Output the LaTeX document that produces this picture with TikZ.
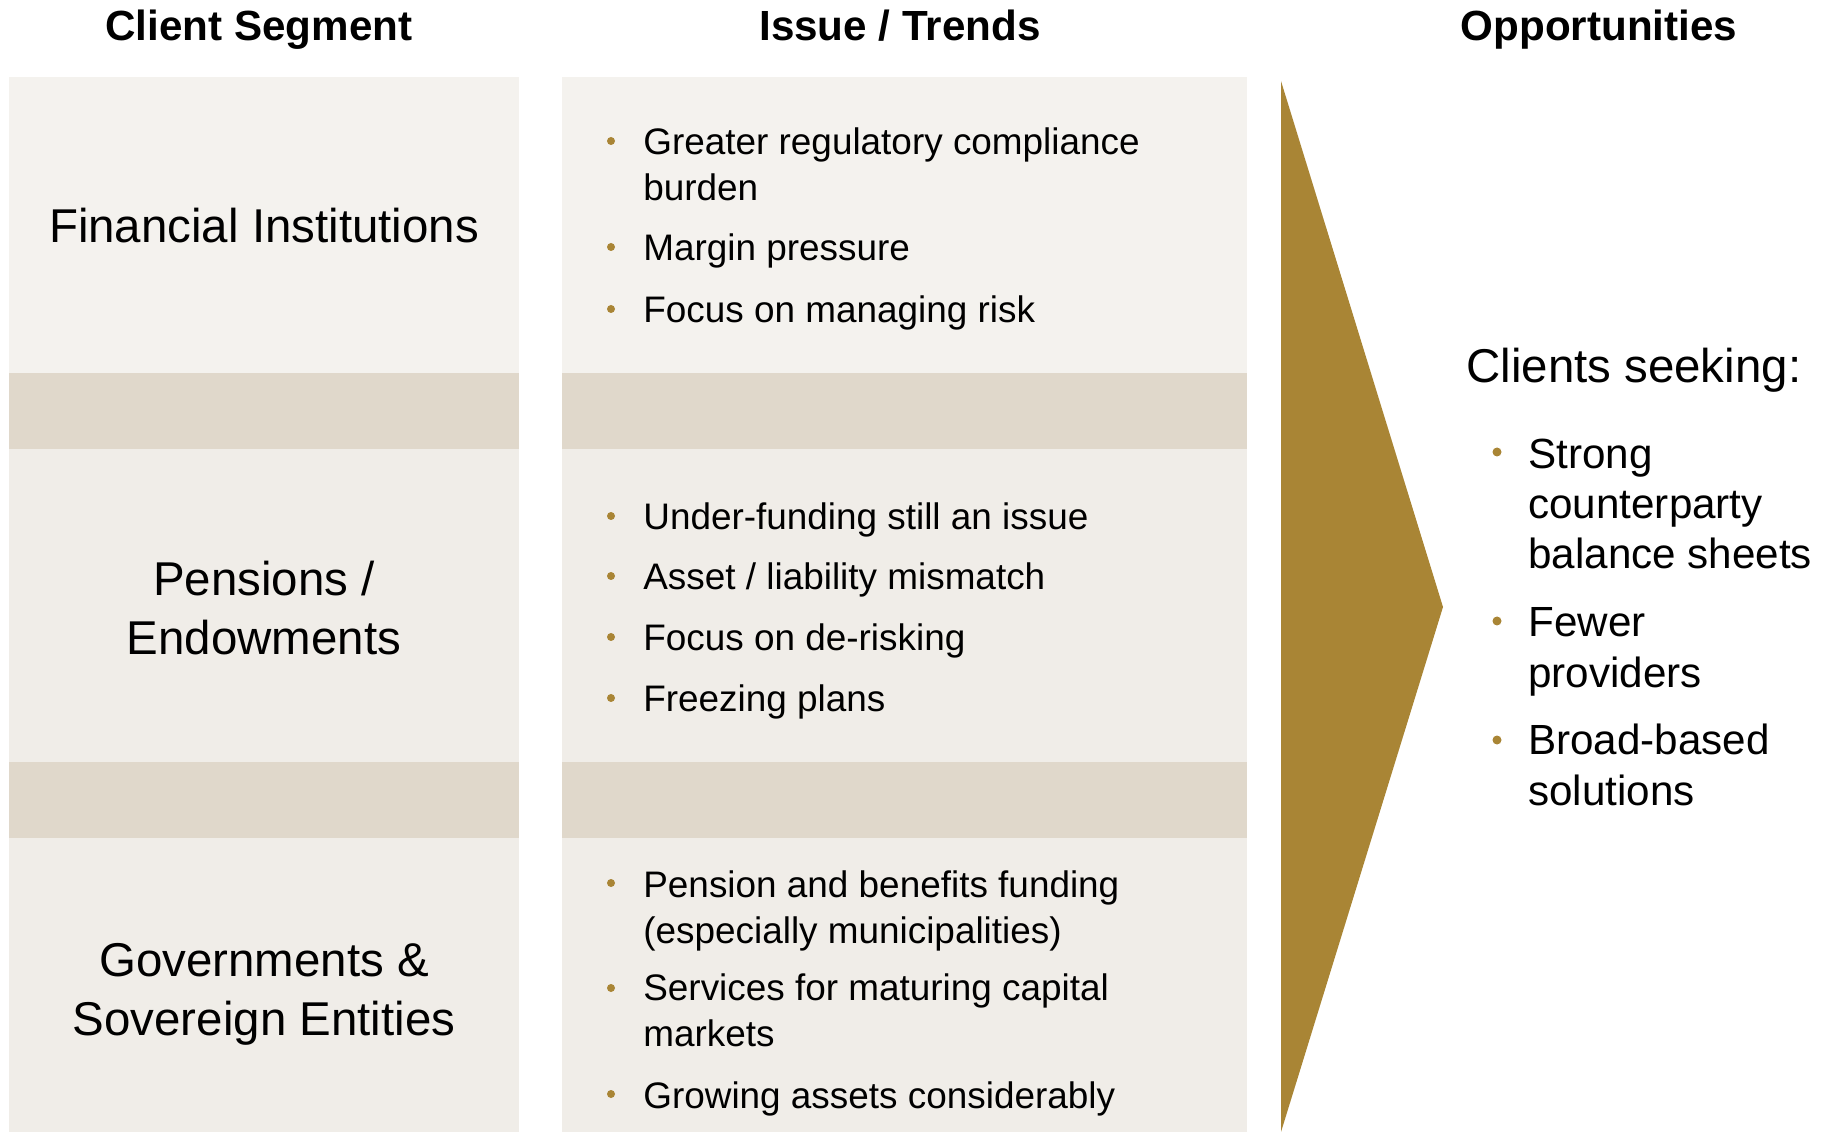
\documentclass[tikz,border=0pt]{standalone}
\usepackage{fontspec}
\setmainfont{Liberation Sans}
\definecolor{paleTop}{HTML}{F4F2EE}
\definecolor{paleBox}{HTML}{F0EDE8}
\definecolor{bandTan}{HTML}{E0D8CB}
\definecolor{gold}{HTML}{A98535}

\begin{document}
\begin{tikzpicture}[x=0.2mm, y=-0.2mm,
	head/.style={font=\fontsize{24}{29}\selectfont\bfseries},
	segtext/.style={align=center, font=\fontsize{27}{33.6}\selectfont},
	issue/.style={anchor=west, align=left, inner sep=0pt, font=\fontsize{21}{26.2}\selectfont},
	seek/.style={anchor=west, align=left, inner sep=0pt, font=\fontsize{24}{28.7}\selectfont},
	golddot/.style={fill=gold}]
			%%%%% START %%%%%
			
			\useasboundingbox (0, 0) rectangle (1829, 1132);
			
			\fill[paleTop] (9, 77) rectangle (519, 373);
			\fill[bandTan] (9, 373) rectangle (519, 449);
			\fill[paleBox] (9, 449) rectangle (519, 762);
			\fill[bandTan] (9, 762) rectangle (519, 838);
			\fill[paleBox] (9, 838) rectangle (519, 1132);
			
			\fill[paleTop] (562, 77) rectangle (1247, 373);
			\fill[bandTan] (562, 373) rectangle (1247, 449);
			\fill[paleBox] (562, 449) rectangle (1247, 762);
			\fill[bandTan] (562, 762) rectangle (1247, 838);
			\fill[paleBox] (562, 838) rectangle (1247, 1132);
			
			\fill[gold] (1281, 81) -- (1443, 607) -- (1281, 1132) -- cycle;
			
			\node[head] (hseg) at (259, 30) {Client Segment};
			\node[head] (hiss) at (900, 26) {Issue / Trends};
			\node[head] (hopp) at (1599, 30) {Opportunities};
			
			\node[segtext] (fin) at (264, 226) {Financial Institutions};
			\node[segtext] (pen) at (264, 608) {Pensions /\\Endowments};
			\node[segtext] (gov) at (264, 994) {Governments \&\\Sovereign Entities};
			
			\fill[golddot] (611, 141) circle (4);
			\node[issue] (regul) at (643, 164) {Greater regulatory compliance\\burden};
			\fill[golddot] (611, 247) circle (4);
			\node[issue] (margin) at (643, 251) {Margin pressure};
			\fill[golddot] (611, 309) circle (4);
			\node[issue] (risk) at (643, 313) {Focus on managing risk};
			
			\fill[golddot] (611, 516) circle (4);
			\node[issue] (under) at (643, 520) {Under-funding still an issue};
			\fill[golddot] (611, 576) circle (4);
			\node[issue] (asset) at (643, 580) {Asset / liability mismatch};
			\fill[golddot] (611, 637) circle (4);
			\node[issue] (derisk) at (643, 641) {Focus on de-risking};
			\fill[golddot] (611, 698) circle (4);
			\node[issue] (freeze) at (643, 702) {Freezing plans};
			
			\fill[golddot] (611, 883) circle (4);
			\node[issue] (benefit) at (643, 911) {Pension and benefits funding\\(especially municipalities)};
			\fill[golddot] (611, 988) circle (4);
			\node[issue] (capital) at (643, 1010) {Services for maturing capital\\markets};
			\fill[golddot] (611, 1094) circle (4);
			\node[issue] (grow) at (643, 1099) {Growing assets considerably};
			
			\node[anchor=west, inner sep=0pt, font=\fontsize{27}{33}\selectfont] (seeking) at (1466, 370) {Clients seeking:};
			\fill[golddot] (1497, 452) circle (4.5);
			\node[seek] (strong) at (1528, 504) {Strong\\counterparty\\balance sheets};
			\fill[golddot] (1497, 621) circle (4.5);
			\node[seek] (fewer) at (1528, 652) {Fewer\\providers};
			\fill[golddot] (1497, 740) circle (4.5);
			\node[seek] (broad) at (1528, 765) {Broad-based\\solutions};
			
			%%%%% END %%%%%
\end{tikzpicture}
\end{document}
